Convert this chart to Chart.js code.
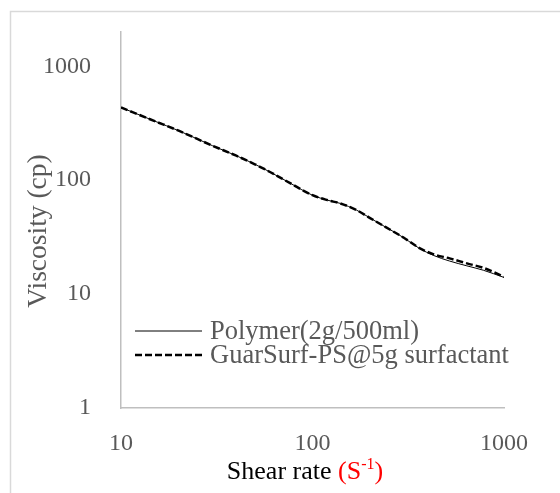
<!DOCTYPE html>
<html>
<head>
<meta charset="utf-8">
<script src="https://cdn.jsdelivr.net/npm/chart.js@4/dist/chart.umd.min.js"></script>
<style>
  html, body { margin: 0; padding: 0; background: #fff; }
  #wrap { width: 560px; height: 493px; }
</style>
</head>
<body>
<div id="wrap"><canvas id="c" width="560" height="493"></canvas></div>
<script>
// Shear rate (s^-1)
const shearRate = [10, 15, 20, 30, 40, 50, 60, 76, 100, 120, 140, 170, 200, 240, 300, 360, 430, 520, 640, 780, 1000];
// Viscosity (cp)
const polymer  = [435, 330, 272, 201, 164, 138, 118, 94.7, 73.8, 66.7, 62.5, 54.6, 46.5, 38.9, 31.2, 25.3, 21.8, 19.5, 17.7, 16.2, 14.0];
const guarSurf = [435, 330, 272, 201, 164, 138, 118, 94.7, 73.8, 66.7, 62.5, 54.6, 46.5, 38.9, 31.2, 25.5, 22.3, 20.6, 18.6, 17.0, 14.2];
const seriesNames = ['Polymer(2g/500ml)', 'GuarSurf-PS@5g surfactant'];
const xTicks = [10, 100, 1000];
const yTicks = [1, 10, 100, 1000];
const xTitle = ['Shear rate ', '(S', '-1', ')'];
const yTitle = 'Viscosity (cp)';

const FONT = "'Liberation Serif', 'Times New Roman', serif";

const decor = {
  id: 'decor',
  afterDraw(chart) {
    const ctx = chart.ctx;
    ctx.save();
    // outer frame
    ctx.strokeStyle = '#d9d9d9';
    ctx.lineWidth = 1.5;
    ctx.strokeRect(10.5, 11.5, 700, 700);

    // legend
    const lx0 = 135, lx1 = 202, tx = 210;
    const ly = [331, 355];
    ctx.font = '26.5px ' + FONT;
    ctx.textBaseline = 'middle';
    ctx.textAlign = 'left';
    chart.data.datasets.forEach((ds, i) => {
      ctx.beginPath();
      ctx.strokeStyle = ds.borderColor;
      ctx.lineWidth = ds.borderWidth;
      ctx.setLineDash(ds.borderDash || []);
      ctx.moveTo(lx0, ly[i]);
      ctx.lineTo(lx1, ly[i]);
      ctx.stroke();
      ctx.setLineDash([]);
      ctx.fillStyle = '#595959';
      ctx.fillText(ds.label, tx, ly[i] + 1);
    });

    // y title
    ctx.save();
    ctx.translate(39, 231);
    ctx.rotate(-Math.PI / 2);
    ctx.textAlign = 'center';
    ctx.fillStyle = '#595959';
    ctx.font = '27.5px ' + FONT;
    ctx.fillText(yTitle, 0, 0);
    ctx.restore();

    // x title with red unit & superscript
    const big = '26px ' + FONT, small = '16px ' + FONT;
    ctx.textAlign = 'left';
    ctx.textBaseline = 'alphabetic';
    ctx.font = big;
    const w0 = ctx.measureText(xTitle[0]).width;
    const w1 = ctx.measureText(xTitle[1]).width;
    const w3 = ctx.measureText(xTitle[3]).width;
    ctx.font = small;
    const w2 = ctx.measureText(xTitle[2]).width;
    const total = w0 + w1 + w2 + w3;
    let x = 305 - total / 2;
    const base = 479;
    ctx.font = big;
    ctx.fillStyle = '#000';
    ctx.fillText(xTitle[0], x, base); x += w0;
    ctx.fillStyle = '#ff0000';
    ctx.fillText(xTitle[1], x, base); x += w1;
    ctx.font = small;
    ctx.fillText(xTitle[2], x, base - 10); x += w2;
    ctx.font = big;
    ctx.fillText(xTitle[3], x, base);
    ctx.restore();
  }
};

new Chart(document.getElementById('c'), {
  type: 'line',
  data: {
    datasets: [
      {
        label: seriesNames[0],
        data: shearRate.map((s, i) => ({ x: s, y: polymer[i] })),
        borderColor: '#000000',
        borderWidth: 1,
        pointRadius: 0,
        cubicInterpolationMode: 'monotone',
        fill: false
      },
      {
        label: seriesNames[1],
        data: shearRate.map((s, i) => ({ x: s, y: guarSurf[i] })),
        borderColor: '#000000',
        borderWidth: 2.5,
        borderDash: [7, 3],
        pointRadius: 0,
        cubicInterpolationMode: 'monotone',
        fill: false
      }
    ]
  },
  options: {
    responsive: false,
    animation: false,
    devicePixelRatio: 1,
    layout: { padding: { left: 0, top: 32, right: 56, bottom: 0 } },
    plugins: { legend: { display: false }, tooltip: { enabled: false } },
    scales: {
      x: {
        type: 'logarithmic',
        min: 10, max: 1000,
        grid: { display: false, drawTicks: false },
        border: { display: true, color: '#bfbfbf', width: 1.5 },
        ticks: {
          font: { family: FONT, size: 24 },
          color: '#595959',
          padding: 21,
          maxRotation: 0,
          autoSkip: false,
          callback: (v) => String(v)
        },
        afterBuildTicks: (s) => { s.ticks = xTicks.map(v => ({ value: v })); },
        afterFit: (s) => { s.height = 85; s.paddingLeft = 0; s.paddingRight = 0; }
      },
      y: {
        type: 'logarithmic',
        min: 1, max: 2000,
        grid: { display: false, drawTicks: false },
        border: { display: true, color: '#bfbfbf', width: 1.5 },
        ticks: {
          font: { family: FONT, size: 24 },
          color: '#595959',
          padding: 30,
          autoSkip: false,
          callback: (v) => String(v)
        },
        afterBuildTicks: (s) => { s.ticks = yTicks.map(v => ({ value: v })); },
        afterFit: (s) => { s.width = 121; s.paddingTop = 0; s.paddingBottom = 0; }
      }
    }
  },
  plugins: [decor]
});
</script>
</body>
</html>
